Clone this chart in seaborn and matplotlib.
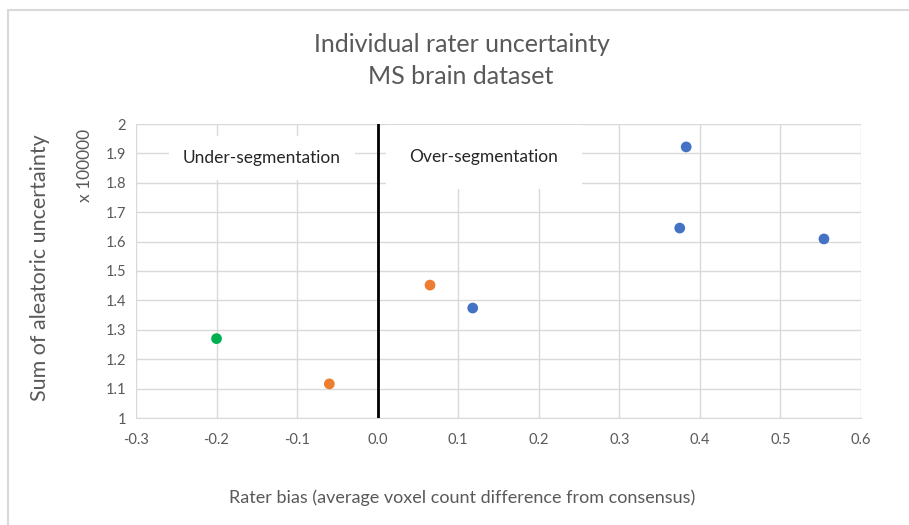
import pandas as pd
import matplotlib.pyplot as plt
import seaborn as sns

# rater bias vs summed aleatoric uncertainty (x 100000)
rater_bias = [-0.200, -0.060, 0.065, 0.118, 0.375, 0.383, 0.554]
uncertainty = [1.270, 1.116, 1.452, 1.374, 1.646, 1.922, 1.609]
rater_group = ['green', 'orange', 'orange', 'blue', 'blue', 'blue', 'blue']
group_colors = {'blue': '#4472C4', 'orange': '#ED7D31', 'green': '#00B050'}

x_ticks = [-0.3, -0.2, -0.1, 0.0, 0.1, 0.2, 0.3, 0.4, 0.5, 0.6]
y_ticks = [1, 1.1, 1.2, 1.3, 1.4, 1.5, 1.6, 1.7, 1.8, 1.9, 2]
y_tick_labels = ['1', '1.1', '1.2', '1.3', '1.4', '1.5', '1.6', '1.7', '1.8', '1.9', '2']

df = pd.DataFrame({'bias': rater_bias, 'unc': uncertainty, 'group': rater_group})

sns.set_style('white')
plt.rcParams['font.family'] = ['Lato', 'DejaVu Sans']
txt = '#595959'

fig = plt.figure(figsize=(9.09, 5.25), dpi=100)
ax = fig.add_axes([136 / 909, 1 - 418 / 525, 725 / 909, 294 / 525])

sns.scatterplot(data=df, x='bias', y='unc', hue='group', palette=group_colors,
                s=60, edgecolor='none', legend=False, ax=ax, zorder=4)

ax.axvline(0, color='black', lw=2, zorder=3)

ax.set_xlim(-0.3, 0.6)
ax.set_ylim(1, 2)
ax.set_xticks(x_ticks)
ax.set_xticklabels([f'{v:.1f}' for v in x_ticks])
ax.set_yticks(y_ticks)
ax.set_yticklabels(y_tick_labels)
ax.grid(True, color='#d9d9d9', lw=1)
ax.set_axisbelow(True)
for side in ['top', 'right', 'left']:
    ax.spines[side].set_visible(False)
ax.spines['bottom'].set_color('#d9d9d9')
ax.tick_params(axis='both', length=0, labelsize=10.5, colors=txt)
ax.tick_params(axis='x', pad=11)
ax.tick_params(axis='y', pad=7)
ax.set_xlabel('')
ax.set_ylabel('')

ax.text(-0.144, 1.885, 'Under-segmentation', ha='center', va='center',
        fontsize=12.5, color='#262626', zorder=5,
        bbox=dict(facecolor='white', edgecolor='none', pad=10))
ax.text(0.132, 1.888, 'Over-segmentation', ha='center', va='center',
        fontsize=12.5, color='#262626', zorder=5,
        bbox=dict(facecolor='white', edgecolor='none', pad=17))

fig.text(462 / 909, 1 - 45 / 525, 'Individual rater uncertainty', ha='center', va='center',
         fontsize=18, color=txt)
fig.text(461 / 909, 1 - 76 / 525, 'MS brain dataset', ha='center', va='center',
         fontsize=18, color=txt)
fig.text(40 / 909, 1 - 268 / 525, 'Sum of aleatoric uncertainty', rotation=90,
         ha='center', va='center', fontsize=15.5, color=txt)
fig.text(85 / 909, 1 - 165 / 525, 'x 100000', rotation=90,
         ha='center', va='center', fontsize=12.5, color=txt)
fig.text(462 / 909, 1 - 498 / 525, 'Rater bias (average voxel count difference from consensus)',
         ha='center', va='center', fontsize=13, color=txt)

# chart frame
fig.add_artist(plt.Line2D([8 / 909, 1], [1 - 10 / 525, 1 - 10 / 525], color='#d9d9d9', lw=1.5))
fig.add_artist(plt.Line2D([8 / 909, 8 / 909], [0, 1 - 10 / 525], color='#d9d9d9', lw=1.5))

fig.savefig('out.png', dpi=100)
